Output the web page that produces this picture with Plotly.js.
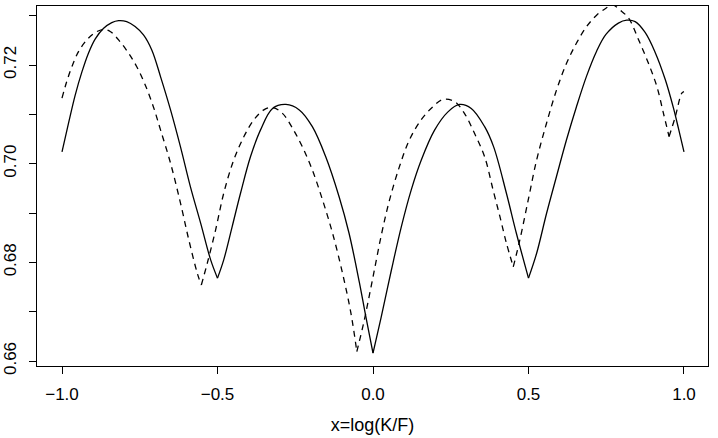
<!DOCTYPE html>
<html>
<head>
<meta charset="utf-8">
<script src="https://cdn.plot.ly/plotly-3.0.1.min.js"></script>
<style>html,body{margin:0;padding:0;background:#fff;}#chart{width:718px;height:438px;}</style>
</head>
<body>
<div id="chart"></div>
<script>
// Solid curve
var xSolid = [-1.0, -0.979, -0.958, -0.936, -0.915, -0.893, -0.867, -0.840, -0.818, -0.792, -0.765, -0.738, -0.711, -0.683, -0.651, -0.619, -0.587, -0.554, -0.522, -0.5,
  -0.480, -0.453, -0.426, -0.394, -0.362, -0.323, -0.280, -0.237, -0.195, -0.152, -0.109, -0.077, -0.044, -0.023, 0.0,
  0.026, 0.059, 0.091, 0.123, 0.155, 0.198, 0.241, 0.278, 0.316, 0.359, 0.388, 0.429, 0.461, 0.5,
  0.526, 0.558, 0.590, 0.622, 0.654, 0.687, 0.719, 0.749, 0.789, 0.816, 0.843, 0.875, 0.907, 0.940, 0.966, 0.982, 1.0];
var ySolid = [0.7024, 0.7082, 0.7138, 0.7186, 0.7224, 0.7253, 0.7274, 0.7286, 0.7290, 0.7288, 0.7278, 0.7261, 0.7230, 0.7176, 0.7109, 0.7034, 0.6953, 0.6879, 0.6805, 0.6768,
  0.6805, 0.6872, 0.6940, 0.7014, 0.7068, 0.7112, 0.7120, 0.7109, 0.7075, 0.7014, 0.6933, 0.6859, 0.6760, 0.6690, 0.6616,
  0.6688, 0.6784, 0.6872, 0.6947, 0.7007, 0.7068, 0.7105, 0.7120, 0.7112, 0.7075, 0.7034, 0.6940, 0.6859, 0.6768,
  0.6818, 0.6899, 0.6974, 0.7048, 0.7115, 0.7178, 0.7228, 0.7262, 0.7285, 0.7291, 0.7288, 0.7266, 0.7226, 0.7170, 0.7113, 0.7072, 0.7024];

// Dashed curve
var xDashed = [-1.0, -0.985, -0.968, -0.947, -0.920, -0.893, -0.867, -0.845, -0.813, -0.786, -0.760, -0.732, -0.706, -0.683, -0.651, -0.619, -0.592, -0.565, -0.552,
  -0.533, -0.506, -0.480, -0.448, -0.415, -0.383, -0.351, -0.323, -0.291, -0.259, -0.227, -0.195, -0.162, -0.130, -0.098, -0.071, -0.052,
  -0.028, -0.002, 0.028, 0.053, 0.085, 0.117, 0.155, 0.192, 0.224, 0.262, 0.294, 0.326, 0.359, 0.386, 0.408, 0.429, 0.451,
  0.472, 0.499, 0.526, 0.558, 0.590, 0.622, 0.654, 0.687, 0.719, 0.749, 0.770, 0.795, 0.822, 0.854, 0.886, 0.913, 0.934, 0.952,
  0.972, 0.993, 1.0];
var yDashed = [0.7133, 0.7166, 0.7197, 0.7227, 0.7251, 0.7266, 0.7272, 0.7268, 0.7247, 0.7224, 0.7197, 0.7159, 0.7115, 0.7068, 0.7001, 0.6920, 0.6845, 0.6778, 0.6754,
  0.6798, 0.6866, 0.6940, 0.7007, 0.7055, 0.7089, 0.7109, 0.7114, 0.7102, 0.7072, 0.7034, 0.6987, 0.6926, 0.6859, 0.6778, 0.6697, 0.6619,
  0.6683, 0.6764, 0.6859, 0.6926, 0.6994, 0.7048, 0.7089, 0.7115, 0.7130, 0.7126, 0.7102, 0.7062, 0.7014, 0.6947, 0.6893, 0.6839, 0.6791,
  0.6845, 0.6926, 0.7007, 0.7082, 0.7149, 0.7203, 0.7244, 0.7278, 0.7301, 0.7315, 0.7322, 0.7311, 0.7295, 0.7251, 0.7203, 0.7156, 0.7102, 0.7055,
  0.7095, 0.7143, 0.7146];

var xTickVals = [-1.0, -0.5, 0.0, 0.5, 1.0];
var xTickText = ["\u22121.0", "\u22120.5", "0.0", "0.5", "1.0"];
var yTickVals = [0.66, 0.67, 0.68, 0.69, 0.70, 0.71, 0.72, 0.73];
var yTickText = ["0.66", "", "0.68", "", "0.70", "", "0.72", ""];
var xTitle = "x=log(K/F)";

var font = {family: "Liberation Sans, Arial, Helvetica, sans-serif", size: 17, color: "#000"};

// Split a curve at its cusps (local minima) so each arch is smoothed separately
function arches(xs, ys) {
  var parts = [], start = 0;
  for (var i = 1; i < ys.length - 1; i++) {
    if (ys[i] < ys[i - 1] && ys[i] < ys[i + 1]) {
      parts.push([xs.slice(start, i + 1), ys.slice(start, i + 1)]);
      start = i;
    }
  }
  parts.push([xs.slice(start), ys.slice(start)]);
  return parts;
}

var traces = [];
arches(xSolid, ySolid).forEach(function (p) {
  traces.push({x: p[0], y: p[1], type: "scatter", mode: "lines",
    line: {color: "#000", width: 1.3, shape: "spline", smoothing: 1}, hoverinfo: "skip"});
});
arches(xDashed, yDashed).forEach(function (p) {
  traces.push({x: p[0], y: p[1], type: "scatter", mode: "lines",
    line: {color: "#000", width: 1.3, dash: "6px,5px", shape: "spline", smoothing: 1}, hoverinfo: "skip"});
});

var layout = {
  width: 718, height: 438,
  margin: {l: 37, r: 10, t: 6, b: 72, pad: 0},
  paper_bgcolor: "#fff", plot_bgcolor: "#fff",
  showlegend: false,
  font: font,
  xaxis: {
    range: [-1.0804, 1.0772], autorange: false, fixedrange: true,
    showgrid: false, zeroline: false,
    showline: true, mirror: true, linecolor: "#000", linewidth: 1,
    ticks: "outside", ticklen: 7, tickwidth: 1, tickcolor: "#000",
    tickmode: "array", tickvals: xTickVals, ticktext: xTickText,
    tickfont: {family: font.family, size: 17, color: "#000"},
    ticklabelstandoff: 6,
    title: {text: xTitle, font: {family: font.family, size: 18, color: "#000"}, standoff: 14},
    automargin: false
  },
  yaxis: {
    range: [0.65899, 0.73196], autorange: false, fixedrange: true,
    showgrid: false, zeroline: false,
    showline: true, mirror: true, linecolor: "#000", linewidth: 1,
    ticks: "outside", ticklen: 7, tickwidth: 1, tickcolor: "#000",
    tickmode: "array", tickvals: yTickVals, ticktext: yTickText,
    tickangle: -90,
    tickfont: {family: font.family, size: 17, color: "#000"},
    ticklabelstandoff: 6,
    automargin: false
  }
};

Plotly.newPlot("chart", traces, layout, {staticPlot: true, displayModeBar: false});
</script>
</body>
</html>
